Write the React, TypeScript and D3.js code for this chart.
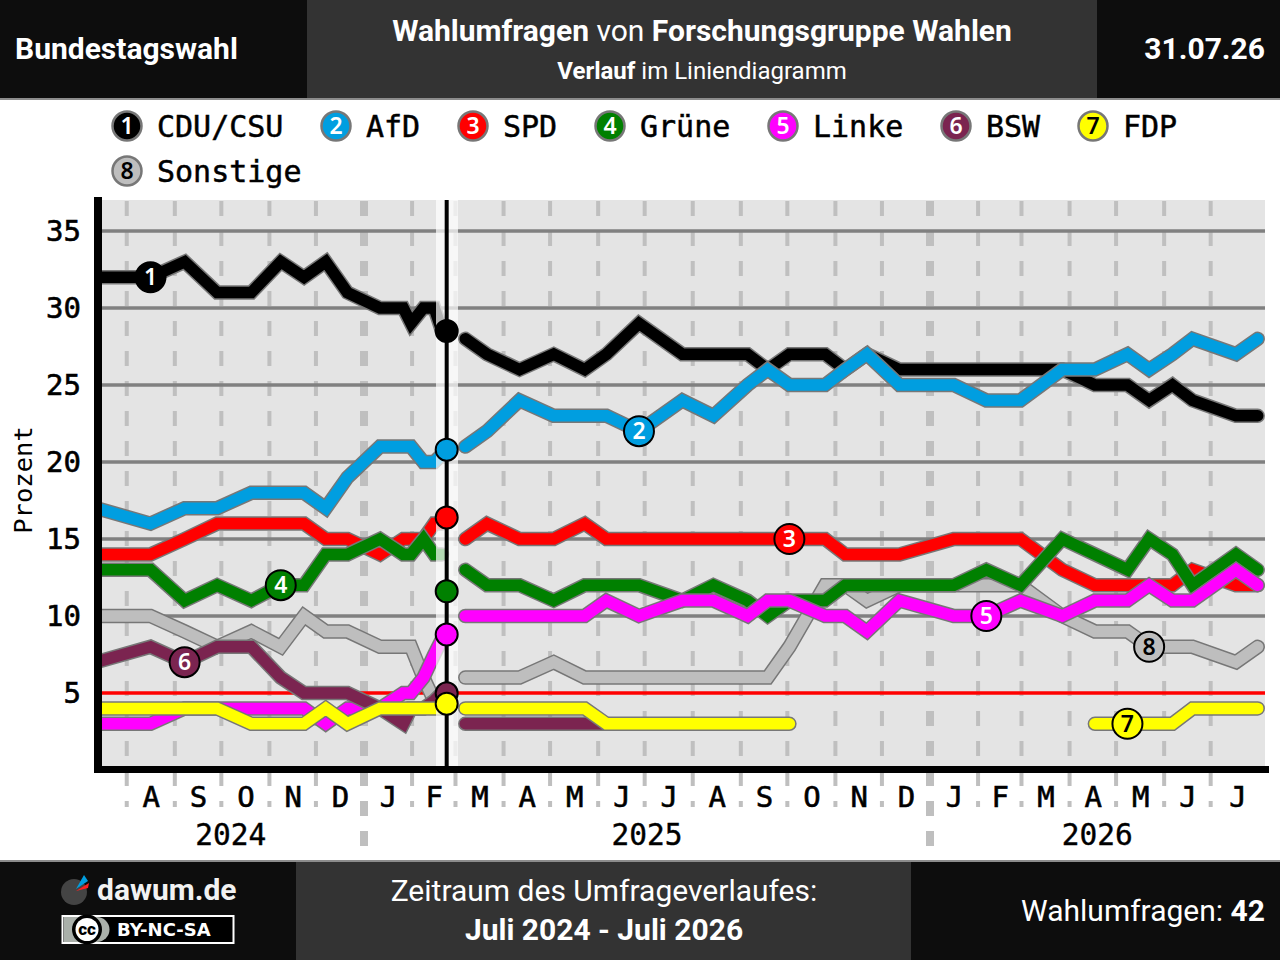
import React from 'react';
import * as d3 from 'd3';

const pollDates = [
  '2024-07-12','2024-08-16','2024-09-07','2024-09-28','2024-10-20','2024-11-08','2024-11-23','2024-12-07','2024-12-21',
  '2025-01-11','2025-01-26','2025-01-31','2025-02-08','2025-02-15','2025-02-20',
  'gap',
  '2025-03-07','2025-03-21','2025-04-11','2025-05-03','2025-05-23','2025-06-06','2025-06-27','2025-07-25','2025-08-14',
  '2025-09-05','2025-09-18','2025-10-02','2025-10-25','2025-11-07','2025-11-21','2025-12-12',
  '2026-01-16','2026-02-06','2026-02-28','2026-03-27','2026-04-17','2026-05-08','2026-05-22','2026-06-06','2026-06-19','2026-07-17','2026-07-31',
];
const _ = null;
const cdu =   [32,32,33,31,31,33,32,33,31,30,30,29,30,30,28.5, _, 28,27,26,27,26,27,29,27,27,27,26,27,27,26,27,26,26,26,26,26,25,25,24,25,24,23,23];
const afd =   [17,16,17,17,18,18,18,17,19,21,21,21,20,20,20.5, _, 21,22,24,23,23,23,22,24,23,25,26,25,25,26,27,25,25,24,24,26,26,27,26,27,28,27,28];
const spd =   [14,14,15,16,16,16,16,15,15,14,15,15,15,16,16, _, 15,16,15,15,16,15,15,15,15,15,15,15,15,14,14,14,15,15,15,13,12,12,12,12,13,12,12];
const gruene =[13,13,11,12,11,12,12,14,14,15,14,14,15,14,14, _, 13,12,12,11,12,12,12,11,12,11,10,11,11,12,12,12,12,13,12,15,14,13,15,14,12,14,13];
const linke = [3,3,4,4,4,4,4,3,4,4,5,5,6,7.5,8.5, _, 10,10,10,10,10,11,10,11,11,10,11,11,10,10,9,11,10,10,11,10,11,11,12,11,11,13,12];
const bsw =   [7,8,7,8,8,6,5,5,5,4,3,4,4,4.5,5, _, 3,3,3,3,3,3,_,_,_,_,_,_,_,_,_,_,_,_,_,_,_,_,_,_,_,_,_];
const fdp =   [4,4,4,4,3,3,3,4,3,4,4,4,4,4,4, _, 4,4,4,4,4,3,3,3,3,3,3,3,_,_,_,_,_,_,_,_,3,3,3,3,4,4,4];
const sonstige=[10,10,9,8,9,8,10,9,9,8,8,8,6,4.5,4, _, 6,6,6,7,6,6,6,6,6,6,6,8,12,12,11,12,12,12,12,10,9,9,8,8,8,7,8];

const partyNames = ['CDU/CSU','AfD','SPD','Grüne','Linke','BSW','FDP','Sonstige'];
const partyColors = ['#000000','#009ee0','#ff0000','#008000','#ff00ff','#7b2450','#ffff00','#bebebe'];
const partyValues = [cdu, afd, spd, gruene, linke, bsw, fdp, sonstige];
const digitColors = ['#fff','#fff','#fff','#fff','#fff','#fff','#000','#000'];
const labelPolls = [1, 22, 27, 5, 33, 2, 37, 38];
const drawOrder = [7, 0, 1, 2, 3, 4, 5, 6];
const legendX = [127, 336, 473, 610, 783, 956, 1093, 127];
const legendRow = [0, 0, 0, 0, 0, 0, 0, 1];

const electionDate = '2025-02-23';
const electionResults = [28.5, 20.8, 16.4, 11.6, 8.8, 4.98, 4.3];

const yTicks = [5, 10, 15, 20, 25, 30, 35];
const threshold = 5;
const monthLetters = ['A','S','O','N','D','J','F','M','A','M','J','J','A','S','O','N','D','J','F','M','A','M','J','J'];
const years = ['2024', '2025', '2026'];

const mono = '"DejaVu Sans Mono", monospace';
const sans = 'Roboto, sans-serif';

const parse = (s: string) => new Date(s + 'T00:00:00Z');
const x = d3.scaleUtc().domain([parse('2025-01-01'), parse('2026-01-01')]).range([364.5, 930.5]);
const y = d3.scaleLinear().domain([0, 35]).range([770, 231]);

const left = 102, right = 1265, top = 200, bottom = 767;

const monthStarts = d3.utcMonth.range(parse('2024-08-01'), parse('2026-08-01'));
const yearEdges = [x.invert(98), parse('2025-01-01'), parse('2026-01-01'), x.invert(1265)];

function linePath(values: (number | null)[]) {
  const pts = pollDates.map((d, i) => ({ d, v: values[i] }));
  return d3.line<{ d: string; v: number | null }>()
    .defined(p => p.d !== 'gap' && p.v !== null)
    .x(p => x(parse(p.d)))
    .y(p => y(p.v as number))(pts) as string;
}

export default function App() {
  return (
    <svg width={1280} height={960} viewBox="0 0 1280 960" style={{ position: 'absolute', left: 0, top: 0, display: 'block', background: '#fff' }}>
      <defs>
        <clipPath id="plot"><rect x={left} y={top} width={right - left} height={bottom - top} /></clipPath>
      </defs>

      {/* header */}
      <rect x={0} y={0} width={1280} height={98} fill="#0d0d0d" />
      <rect x={307} y={0} width={790} height={98} fill="#333333" />
      <rect x={0} y={98} width={1280} height={2} fill="#8c8c8c" />
      <text x={15} y={59} fontFamily={sans} fontWeight={700} fontSize={30} fill="#fff">Bundestagswahl</text>
      <text x={702} y={41} textAnchor="middle" fontFamily={sans} fontSize={30} fill="#fff">
        <tspan fontWeight={700}>Wahlumfragen</tspan> von <tspan fontWeight={700}>Forschungsgruppe Wahlen</tspan>
      </text>
      <text x={702} y={79} textAnchor="middle" fontFamily={sans} fontSize={24} fill="#fff">
        <tspan fontWeight={700}>Verlauf</tspan> im Liniendiagramm
      </text>
      <text x={1265} y={59} textAnchor="end" fontFamily={sans} fontWeight={700} fontSize={30} fill="#fff">31.07.26</text>

      {/* legend */}
      {partyNames.map((name, i) => {
        const cy = 126 + legendRow[i] * 45;
        return (
          <g key={name}>
            <circle cx={legendX[i]} cy={cy} r={14.5} fill={partyColors[i]} stroke="#777" strokeWidth={2.5} />
            <text x={legendX[i]} y={cy + 8} textAnchor="middle" fontFamily='"Noto Sans", sans-serif' fontWeight={600} fontSize={23} fill={digitColors[i]}>{i + 1}</text>
            <text x={legendX[i] + 30} y={cy + 11} fontFamily={mono} fontSize={30} fill="#000" stroke="#000" strokeWidth={0.5}>{name}</text>
          </g>
        );
      })}

      {/* plot background */}
      <rect x={left} y={top} width={right - left} height={bottom - top} fill="#e4e4e4" />

      {/* vertical month lines */}
      {monthStarts.map((m, i) => {
        const isYear = m.getUTCMonth() === 0;
        return (
          <line key={i} x1={x(m) - 0.5} x2={x(m) - 0.5} y1={201} y2={isYear ? 846 : 807} stroke="#bfbfbf" strokeWidth={isYear ? 8 : 4} strokeDasharray="15 15" />
        );
      })}

      {/* horizontal grid */}
      {yTicks.filter(t => t !== threshold).map(t => (
        <line key={t} x1={left} x2={right} y1={y(t)} y2={y(t)} stroke="#808080" strokeWidth={3.5} />
      ))}
      <line x1={left} x2={right} y1={y(threshold)} y2={y(threshold)} stroke="#ff0000" strokeWidth={3.5} />

      {/* series */}
      <g clipPath="url(#plot)">
        {drawOrder.map(i => {
          const d = linePath(partyValues[i]);
          return (
            <g key={i} fill="none" strokeLinecap="round" strokeLinejoin="miter">
              <path d={d} stroke="#777777" strokeWidth={14.5} />
              <path d={d} stroke={partyColors[i]} strokeWidth={11.5} />
            </g>
          );
        })}
      </g>

      {/* election band */}
      <rect x={436} y={top} width={22} height={bottom - top} fill="#ffffff" opacity={0.7} />
      <line x1={x(parse(electionDate))} x2={x(parse(electionDate))} y1={top} y2={bottom} stroke="#000" strokeWidth={4} />
      {electionResults.map((v, i) => (
        <circle key={i} cx={x(parse(electionDate))} cy={y(v)} r={11} fill={partyColors[i]} stroke="#000" strokeWidth={2} />
      ))}

      {/* axes */}
      <rect x={94} y={197} width={8} height={576} fill="#000" />
      <rect x={94} y={766} width={1175} height={7} fill="#000" />
      {yTicks.map(t => (
        <text key={t} x={81} y={y(t) + 10} textAnchor="end" fontFamily={mono} fontSize={29} fill="#000" stroke="#000" strokeWidth={0.6}>{t}</text>
      ))}
      <text transform="translate(31.5,480) rotate(-90)" textAnchor="middle" fontFamily={mono} fontSize={25.5} fill="#000">Prozent</text>

      {monthLetters.map((l, i) => {
        const a = monthStarts[i];
        const bx = i + 1 < monthStarts.length ? x(monthStarts[i + 1]) : 1265;
        const cx = (x(a) + bx) / 2;
        return <text key={i} x={cx} y={807} textAnchor="middle" fontFamily={mono} fontSize={29} fill="#000" stroke="#000" strokeWidth={0.6}>{l}</text>;
      })}
      {years.map((yr, i) => (
        <text key={yr} x={(x(yearEdges[i]) + x(yearEdges[i + 1])) / 2 - 0.5} y={845} textAnchor="middle" fontFamily={mono} fontSize={29.5} fill="#000" stroke="#000" strokeWidth={0.4}>{yr}</text>
      ))}

      {/* number badges on the lines */}
      {drawOrder.map(i => {
        const p = labelPolls[i];
        const cx = x(parse(pollDates[p]));
        const cy = y(partyValues[i][p] as number);
        return (
          <g key={i}>
            <circle cx={cx} cy={cy} r={15} fill={partyColors[i]} stroke="#000" strokeWidth={2} />
            <text x={cx} y={cy + 8} textAnchor="middle" fontFamily='"Noto Sans", sans-serif' fontWeight={600} fontSize={23} fill={digitColors[i]}>{i + 1}</text>
          </g>
        );
      })}

      {/* footer */}
      <rect x={0} y={860} width={1280} height={2} fill="#8c8c8c" />
      <rect x={0} y={862} width={1280} height={98} fill="#0d0d0d" />
      <rect x={296} y={862} width={615} height={98} fill="#333333" />
      <circle cx={74} cy={892} r={13} fill="#444" />
      <path d="M76,889 L84,875 L88,881 Z" fill="#009ee0" />
      <path d="M76,891 L89,883 L88,888 Z" fill="#ff2020" />
      <text x={97} y={900} fontFamily={sans} fontWeight={700} fontSize={30} fill="#f2f2f2">dawum.de</text>
      <rect x={62.5} y={916} width={171} height={27} fill="#000" stroke="#fff" strokeWidth={2} />
      <rect x={64} y={917} width={33} height={25} fill="#aab0aa" />
      <circle cx={97} cy={929.5} r={12.5} fill="#aab0aa" />
      <circle cx={87} cy={929.5} r={15} fill="#000" />
      <circle cx={87} cy={929.5} r={11.5} fill="#fff" />
      <text x={87} y={935} textAnchor="middle" fontFamily={sans} fontWeight={900} fontSize={17} fill="#000">cc</text>
      <text x={117} y={935.5} fontFamily='"DejaVu Sans", sans-serif' fontWeight={700} fontSize={18} fill="#fff">BY-NC-SA</text>
      <text x={604} y={901} textAnchor="middle" fontFamily={sans} fontSize={30} fill="#fff">Zeitraum des Umfrageverlaufes:</text>
      <text x={604} y={940} textAnchor="middle" fontFamily={sans} fontWeight={700} fontSize={30} fill="#fff">Juli 2024 - Juli 2026</text>
      <text x={1265} y={921} textAnchor="end" fontFamily={sans} fontSize={30} fill="#fff">Wahlumfragen: <tspan fontWeight={700}>42</tspan></text>
    </svg>
  );
}
